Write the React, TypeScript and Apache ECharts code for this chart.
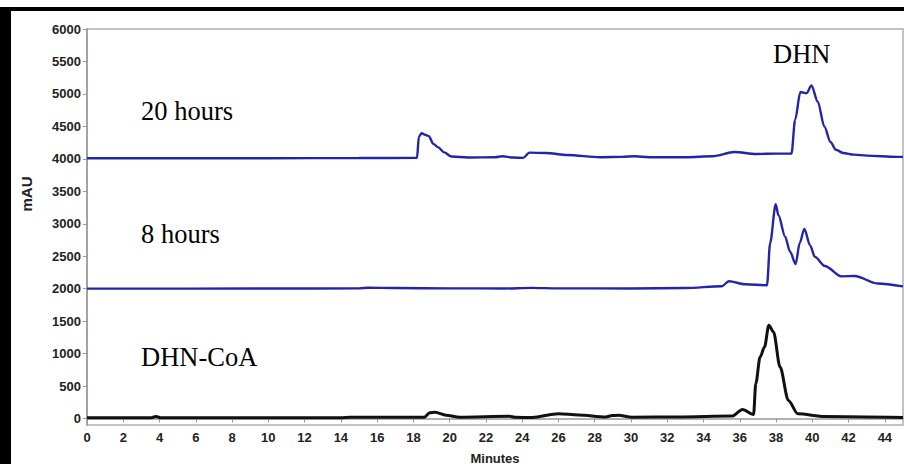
import { useEffect, useRef } from "react";
import * as echarts from "echarts";

const minuteTicks = [0, 2, 4, 6, 8, 10, 12, 14, 16, 18, 20, 22, 24, 26, 28, 30, 32, 34, 36, 38, 40, 42, 44];
const mauTicks = [0, 500, 1000, 1500, 2000, 2500, 3000, 3500, 4000, 4500, 5000, 5500, 6000];

const hours20Times = [0, 5, 10, 15, 18.2, 18.3, 18.45, 18.65, 18.85, 19.1, 19.35, 19.7, 20.1, 21, 22.5, 22.9, 23.5, 24.05, 24.4, 25.3, 26.5, 28.3, 29.5, 30.2, 31, 33, 34.5, 35.7, 36.9, 38.0, 38.85, 39.05, 39.34, 39.68, 39.95, 40.3, 40.66, 41.0, 41.3, 41.7, 42.3, 43, 44.65, 45];
const hours20Values = [4010, 4010, 4010, 4012, 4015, 4340, 4395, 4370, 4350, 4230, 4180, 4100, 4035, 4020, 4025, 4040, 4020, 4015, 4095, 4090, 4060, 4025, 4030, 4040, 4025, 4025, 4040, 4105, 4075, 4080, 4080, 4600, 5030, 5010, 5130, 4880, 4500, 4260, 4140, 4090, 4065, 4050, 4030, 4030];

const hours8Times = [0, 10, 15, 15.5, 17, 20, 23, 24.5, 26, 30, 33, 35.0, 35.4, 36.3, 37.5, 37.67, 37.98, 38.13, 38.5, 38.77, 39.08, 39.3, 39.56, 39.87, 40.14, 40.69, 41.6, 42.34, 43.6, 45];
const hours8Values = [2000, 2002, 2005, 2015, 2010, 2005, 2003, 2012, 2005, 2003, 2010, 2037, 2115, 2068, 2052, 2700, 3300, 3130, 2800, 2570, 2380, 2700, 2920, 2670, 2490, 2350, 2190, 2195, 2080, 2035];

const dhnCoaTimes = [0, 3.5, 3.8, 4.1, 14, 14.5, 18.6, 18.9, 19.18, 19.8, 20.55, 23.3, 23.6, 24.56, 26.0, 27.1, 28.6, 28.97, 29.3, 30.06, 32.6, 35.6, 36.15, 36.76, 36.88, 37.12, 37.36, 37.6, 37.86, 38.22, 38.68, 39.2, 40.7, 45];
const dhnCoaValues = [10, 10, 30, 10, 12, 20, 20, 88, 98, 50, 20, 35, 18, 15, 75, 55, 25, 46, 50, 20, 25, 40, 139, 62, 535, 946, 1100, 1435, 1332, 792, 278, 72, 30, 15];

const traceLabels = ["20 hours", "8 hours", "DHN-CoA", "DHN"];

const zip = (t: number[], v: number[]) => t.map((x, i) => [x, v[i]]);

export default function App() {
  const ref = useRef<HTMLDivElement>(null);
  useEffect(() => {
    if (!ref.current) return;
    const chart = echarts.init(ref.current, null, { renderer: "svg" });
    const tickFont = { fontFamily: "Liberation Sans, Arial, sans-serif", fontWeight: "bold" as const, fontSize: 13, color: "#222" };
    const serif = "Liberation Serif, Times New Roman, serif";
    chart.setOption({
      animation: false,
      backgroundColor: "#fff",
      grid: { left: 87, right: 1, top: 29, bottom: 39, show: true, borderColor: "#b0b0b0", borderWidth: 1.5 },
      xAxis: {
        type: "value",
        min: 0,
        max: 45,
        axisLine: { show: true, lineStyle: { color: "#999", width: 1.5 } },
        axisTick: { show: true, customValues: minuteTicks, length: 4, lineStyle: { color: "#999" } },
        axisLabel: { ...tickFont, customValues: minuteTicks, margin: 6, formatter: (v: number) => String(v) },
        splitLine: { show: false },
      },
      yAxis: {
        type: "value",
        min: -100,
        max: 6000,
        axisLine: { show: true, lineStyle: { color: "#999", width: 1.5 } },
        axisTick: { show: true, customValues: mauTicks, length: 4, lineStyle: { color: "#999" } },
        axisLabel: { ...tickFont, customValues: mauTicks, margin: 6, formatter: (v: number) => String(v) },
        splitLine: { show: false },
      },
      series: [
        {
          type: "line",
          data: zip(hours20Times, hours20Values),
          showSymbol: false,
          smooth: 0.3,
          smoothMonotone: "x",
          lineStyle: { color: "#2424a8", width: 2.4 },
        },
        {
          type: "line",
          data: zip(hours8Times, hours8Values),
          showSymbol: false,
          smooth: 0.3,
          smoothMonotone: "x",
          lineStyle: { color: "#2424a8", width: 2.4 },
        },
        {
          type: "line",
          data: zip(dhnCoaTimes, dhnCoaValues),
          showSymbol: false,
          smooth: 0.3,
          smoothMonotone: "x",
          lineStyle: { color: "#111", width: 3 },
        },
      ],
      graphic: [
        { type: "text", x: 141, y: 111, style: { text: traceLabels[0], font: `26.5px ${serif}`, fill: "#000", verticalAlign: "middle" } },
        { type: "text", x: 141, y: 234, style: { text: traceLabels[1], font: `26.5px ${serif}`, fill: "#000", verticalAlign: "middle" } },
        { type: "text", x: 141, y: 357, style: { text: traceLabels[2], font: `26.5px ${serif}`, fill: "#000", verticalAlign: "middle" } },
        { type: "text", x: 773, y: 54, style: { text: traceLabels[3], font: `26.5px ${serif}`, fill: "#000", verticalAlign: "middle" } },
        { type: "text", x: 495, y: 458, style: { text: "Minutes", font: "bold 13px Liberation Sans, Arial, sans-serif", fill: "#222", align: "center", verticalAlign: "middle" } },
        { type: "text", x: 26, y: 194, rotation: Math.PI / 2, style: { text: "mAU", font: "bold 15px Liberation Sans, Arial, sans-serif", fill: "#222", align: "center", verticalAlign: "middle" } },
        { type: "rect", shape: { x: 0, y: 7, width: 904, height: 4 }, style: { fill: "#000" }, z: 100 },
        { type: "rect", shape: { x: 0, y: 7, width: 11, height: 457 }, style: { fill: "#000" }, z: 100 },
      ],
    });
    return () => chart.dispose();
  }, []);
  return <div ref={ref} style={{ position: "fixed", left: 0, top: 0, width: 904, height: 464 }} />;
}
